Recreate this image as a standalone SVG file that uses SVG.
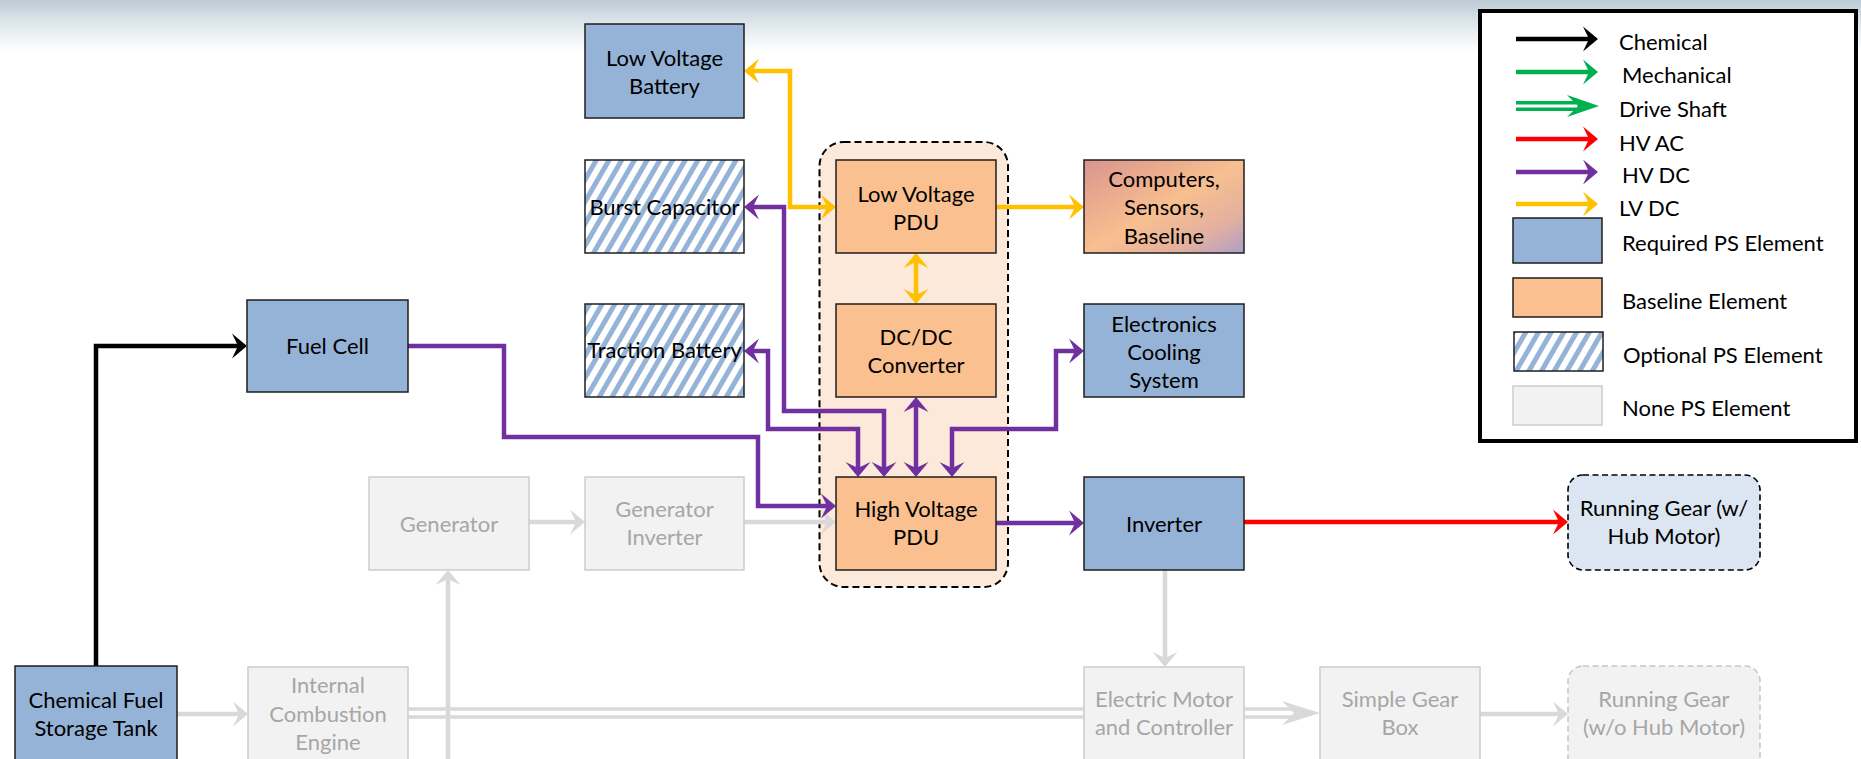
<svg xmlns="http://www.w3.org/2000/svg" width="1861" height="759" viewBox="0 0 1861 759">
<style>
.req{fill:#95b3d7;stroke:#1e1e1e;stroke-width:1.5}
.base{fill:#fac090;stroke:#1e1e1e;stroke-width:1.5}
.opt{fill:url(#hatch);stroke:#1e1e1e;stroke-width:1.5}
.none{fill:#f2f2f2;stroke:#cdcdcd;stroke-width:1.5}
.t{font-family:Lato,"Liberation Sans",sans-serif;font-size:22px;text-anchor:middle;fill:#000}
.g{fill:#a6a6a6}
.lg{text-anchor:start}
.w{fill:none;stroke-width:4.5;stroke-linejoin:miter}
.pu{stroke:#7030a0}
.ye{stroke:#ffc000}
.rd{stroke:#ff0000}
.bk{stroke:#000}
.gr{stroke:#d9d9d9}
.gn{stroke:#00b050}
</style>
<defs>
<linearGradient id="hdr" x1="0" y1="0" x2="0" y2="1">
<stop offset="0" stop-color="#bccbd5"/>
<stop offset="0.45" stop-color="#dfe7ec"/>
<stop offset="1" stop-color="#ffffff"/>
</linearGradient>
<linearGradient id="comp" x1="0" y1="0" x2="1" y2="1">
<stop offset="0" stop-color="#d9948f"/>
<stop offset="0.5" stop-color="#f8bf8f"/>
<stop offset="0.78" stop-color="#e3b09f"/>
<stop offset="1" stop-color="#ad9fcb"/>
</linearGradient>
<pattern id="hatch" patternUnits="userSpaceOnUse" width="11" height="11" patternTransform="rotate(30)">
<rect width="11" height="11" fill="#fff"/>
<rect width="5" height="11" fill="#95b3d7"/>
</pattern>
<marker id="mp" markerUnits="userSpaceOnUse" markerWidth="20" markerHeight="30" refX="0" refY="0" orient="auto-start-reverse" overflow="visible"><path d="M4,0 L-11,-12.5 L-5,0 L-11,12.5 Z" fill="#7030a0"/></marker>
<marker id="my" markerUnits="userSpaceOnUse" markerWidth="20" markerHeight="30" refX="0" refY="0" orient="auto-start-reverse" overflow="visible"><path d="M4,0 L-11,-12.5 L-5,0 L-11,12.5 Z" fill="#ffc000"/></marker>
<marker id="mr" markerUnits="userSpaceOnUse" markerWidth="20" markerHeight="30" refX="0" refY="0" orient="auto-start-reverse" overflow="visible"><path d="M4,0 L-11,-12.5 L-5,0 L-11,12.5 Z" fill="#ff0000"/></marker>
<marker id="mk" markerUnits="userSpaceOnUse" markerWidth="20" markerHeight="30" refX="0" refY="0" orient="auto-start-reverse" overflow="visible"><path d="M4,0 L-11,-12.5 L-5,0 L-11,12.5 Z" fill="#000"/></marker>
<marker id="mg" markerUnits="userSpaceOnUse" markerWidth="20" markerHeight="30" refX="0" refY="0" orient="auto-start-reverse" overflow="visible"><path d="M4,0 L-11,-12.5 L-5,0 L-11,12.5 Z" fill="#d9d9d9"/></marker>
<marker id="mn" markerUnits="userSpaceOnUse" markerWidth="20" markerHeight="30" refX="0" refY="0" orient="auto-start-reverse" overflow="visible"><path d="M4,0 L-11,-12.5 L-5,0 L-11,12.5 Z" fill="#00b050"/></marker>
</defs>
<rect x="0" y="0" width="1861" height="759" fill="#fff"/>
<rect x="0" y="0" width="1861" height="52" fill="url(#hdr)"/>

<g id="container">
<rect x="819.5" y="142" width="188.5" height="445" rx="24" fill="#fde9d9" stroke="#000" stroke-width="2" stroke-dasharray="7 4"/>
</g>

<g id="connectors">
<!-- grey (none) -->
<path class="w gr" d="M177,714 H244" marker-end="url(#mg)"/>
<path class="w gr" d="M529,522 H581" marker-end="url(#mg)"/>
<path class="w gr" d="M744,522 H832" marker-end="url(#mg)"/>
<path d="M408,713 H1084" fill="none" stroke="#d9d9d9" stroke-width="11.5"/>
<path d="M408,713 H1084" fill="none" stroke="#fff" stroke-width="4.5"/>
<path class="w gr" d="M448,759 V574" marker-end="url(#mg)"/>
<path class="w gr" d="M1165,570 V663" marker-end="url(#mg)"/>
<path d="M1244,713 H1296" fill="none" stroke="#d9d9d9" stroke-width="11.5"/>
<path d="M1244,713 H1296" fill="none" stroke="#fff" stroke-width="4.5"/>
<path d="M1320,713 L1282,701 L1294,713 L1282,725 Z" fill="#d9d9d9"/>
<path class="w gr" d="M1480,714 H1564" marker-end="url(#mg)"/>
<!-- black chemical -->
<path class="w bk" d="M96,666 V346 H243" marker-end="url(#mk)"/>
<!-- purple HV DC -->
<path class="w pu" d="M408,346 H504 V437 H758 V506 H832" marker-end="url(#mp)"/>
<path class="w pu" d="M884,473 V411 H784 V207 H748" marker-start="url(#mp)" marker-end="url(#mp)"/>
<path class="w pu" d="M858,473 V429 H768 V351 H748" marker-start="url(#mp)" marker-end="url(#mp)"/>
<path class="w pu" d="M916,401 V473" marker-start="url(#mp)" marker-end="url(#mp)"/>
<path class="w pu" d="M952,473 V429 H1056 V351 H1080" marker-start="url(#mp)" marker-end="url(#mp)"/>
<path class="w pu" d="M996,523 H1080" marker-end="url(#mp)"/>
<!-- yellow LV DC -->
<path class="w ye" d="M748,71 H790 V207 H832" marker-start="url(#my)" marker-end="url(#my)"/>
<path class="w ye" d="M996,207 H1080" marker-end="url(#my)"/>
<path class="w ye" d="M916,257 V300" marker-start="url(#my)" marker-end="url(#my)"/>
<!-- red HV AC -->
<path class="w rd" d="M1244,522 H1564" marker-end="url(#mr)"/>
</g>

<g id="low-voltage-battery">
<rect class="req" x="585" y="24" width="159" height="94"/>
<text class="t" x="664.5" y="66">Low Voltage</text>
<text class="t" x="664.5" y="94">Battery</text>
</g>
<g id="burst-capacitor">
<rect class="opt" x="585" y="160" width="159" height="93"/>
<text class="t" x="664.5" y="215">Burst Capacitor</text>
</g>
<g id="traction-battery">
<rect class="opt" x="585" y="304" width="159" height="93"/>
<text class="t" x="664.5" y="358">Traction Battery</text>
</g>
<g id="generator-inverter">
<rect class="none" x="585" y="477" width="159" height="93"/>
<text class="t g" x="664.5" y="517">Generator</text>
<text class="t g" x="664.5" y="545">Inverter</text>
</g>
<g id="low-voltage-pdu">
<rect class="base" x="836" y="160" width="160" height="93"/>
<text class="t" x="916" y="202">Low Voltage</text>
<text class="t" x="916" y="230">PDU</text>
</g>
<g id="dcdc-converter">
<rect class="base" x="836" y="304" width="160" height="93"/>
<text class="t" x="916" y="345">DC/DC</text>
<text class="t" x="916" y="373">Converter</text>
</g>
<g id="high-voltage-pdu">
<rect class="base" x="836" y="477" width="160" height="93"/>
<text class="t" x="916" y="517">High Voltage</text>
<text class="t" x="916" y="545">PDU</text>
</g>
<g id="computers">
<rect x="1084" y="160" width="160" height="93" fill="url(#comp)" stroke="#1e1e1e" stroke-width="1.5"/>
<text class="t" x="1164" y="187">Computers,</text>
<text class="t" x="1164" y="215">Sensors,</text>
<text class="t" x="1164" y="244">Baseline</text>
</g>
<g id="electronics-cooling">
<rect class="req" x="1084" y="304" width="160" height="93"/>
<text class="t" x="1164" y="332">Electronics</text>
<text class="t" x="1164" y="360">Cooling</text>
<text class="t" x="1164" y="388">System</text>
</g>
<g id="inverter">
<rect class="req" x="1084" y="477" width="160" height="93"/>
<text class="t" x="1164" y="532">Inverter</text>
</g>
<g id="running-gear-hub">
<rect x="1568" y="475" width="192" height="95" rx="15" fill="#dce6f2" stroke="#000" stroke-width="1.6" stroke-dasharray="6 3.5"/>
<text class="t" x="1664" y="516">Running Gear (w/</text>
<text class="t" x="1664" y="544">Hub Motor)</text>
</g>
<g id="fuel-cell">
<rect class="req" x="247" y="300" width="161" height="92"/>
<text class="t" x="327.5" y="354">Fuel Cell</text>
</g>
<g id="generator">
<rect class="none" x="369" y="477" width="160" height="93"/>
<text class="t g" x="449" y="532">Generator</text>
</g>
<g id="chemical-fuel-storage-tank">
<rect class="req" x="15" y="666" width="162" height="100"/>
<text class="t" x="96" y="708">Chemical Fuel</text>
<text class="t" x="96" y="736">Storage Tank</text>
</g>
<g id="internal-combustion-engine">
<rect class="none" x="248" y="667" width="160" height="100"/>
<text class="t g" x="328" y="693">Internal</text>
<text class="t g" x="328" y="722">Combustion</text>
<text class="t g" x="328" y="750">Engine</text>
</g>
<g id="electric-motor-controller">
<rect class="none" x="1084" y="667" width="160" height="100"/>
<text class="t g" x="1164" y="707">Electric Motor</text>
<text class="t g" x="1164" y="735">and Controller</text>
</g>
<g id="simple-gear-box">
<rect class="none" x="1320" y="667" width="160" height="100"/>
<text class="t g" x="1400" y="707">Simple Gear</text>
<text class="t g" x="1400" y="735">Box</text>
</g>
<g id="running-gear-no-hub">
<rect x="1568" y="666" width="192" height="110" rx="15" fill="#f2f2f2" stroke="#c8c8c8" stroke-width="1.6" stroke-dasharray="6 3.5"/>
<text class="t g" x="1664" y="707">Running Gear</text>
<text class="t g" x="1664" y="735">(w/o Hub Motor)</text>
</g>

<g id="legend">
<rect x="1480" y="11" width="376" height="430" fill="#fff" stroke="#000" stroke-width="4"/>
<path class="w bk" d="M1516,39 H1594" marker-end="url(#mk)"/>
<path class="w gn" d="M1516,72 H1594" marker-end="url(#mn)"/>
<path d="M1516,106 H1576" fill="none" stroke="#00b050" stroke-width="10"/>
<path d="M1516,106 H1576" fill="none" stroke="#fff" stroke-width="3"/>
<path d="M1599,106 L1567,95 L1578,106 L1567,117 Z" fill="#00b050"/>
<path class="w rd" d="M1516,139 H1594" marker-end="url(#mr)"/>
<path class="w pu" d="M1516,172 H1594" marker-end="url(#mp)"/>
<path class="w ye" d="M1516,204 H1594" marker-end="url(#my)"/>
<rect class="req" x="1513" y="218" width="89" height="45"/>
<rect class="base" x="1513" y="278" width="89" height="39"/>
<rect class="opt" x="1514" y="332" width="89" height="39"/>
<rect class="none" x="1513" y="386" width="89" height="39"/>
<text class="t lg" x="1619" y="50">Chemical</text>
<text class="t lg" x="1622" y="83">Mechanical</text>
<text class="t lg" x="1619" y="117">Drive Shaft</text>
<text class="t lg" x="1619" y="151">HV AC</text>
<text class="t lg" x="1622" y="183">HV DC</text>
<text class="t lg" x="1619" y="216">LV DC</text>
<text class="t lg" x="1622" y="251">Required PS Element</text>
<text class="t lg" x="1622" y="309">Baseline Element</text>
<text class="t lg" x="1623" y="363">Optional PS Element</text>
<text class="t lg" x="1622" y="416">None PS Element</text>
</g>
</svg>
